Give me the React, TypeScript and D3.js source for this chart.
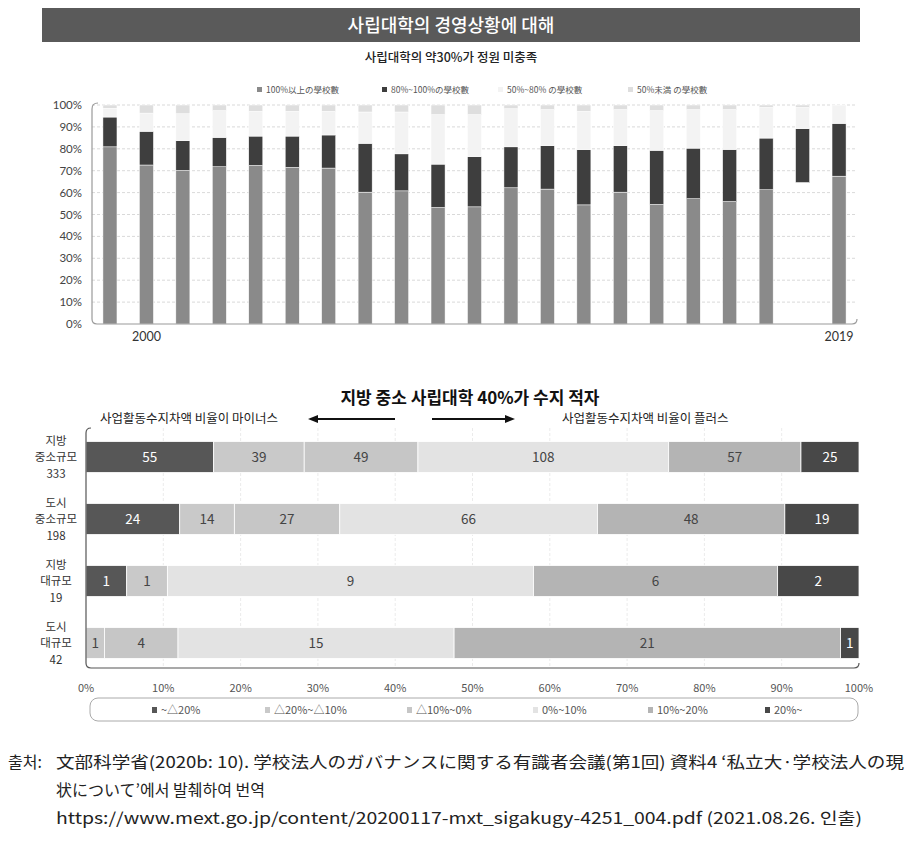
import React from "react";
import * as d3 from "d3";

// ---------- Top chart data ----------
const years = ["1999","2000","2001","2002","2003","2004","2005","2006","2007","2008","2009","2010","2011","2012","2013","2014","2015","2016","2017","2018","2019"];
const over100 = [80.9,72.6,70.1,71.8,72.4,71.5,71.2,60.2,60.8,53.2,53.5,62.2,61.6,54.4,60.2,54.6,57.2,55.9,61.3,64.6,67.5];
const from80to100 = [13.6,15.4,13.6,13.4,13.4,14.3,15.1,22.3,16.9,19.8,22.9,18.7,19.8,25.2,21.2,24.7,23.1,23.8,23.6,24.6,24.1];
const from50to80 = [4.0,8.3,12.3,12.2,11.3,11.3,10.8,14.3,19.1,22.6,19.2,17.4,16.5,17.5,16.5,18.1,17.6,18.2,14.0,9.7,8.2];
const under50 = [1.5,3.7,4.0,2.6,2.9,2.9,2.9,3.2,3.2,4.4,4.4,1.7,2.1,2.9,2.1,2.6,2.1,2.1,1.1,1.1,0.2];
const missingBottomYears = ["2018"];
const topKeys = ["over100","from80to100","from50to80","under50"];
const topLegend = ["100%以上の學校數","80%~100%の學校數","50%~80% の學校數","50%未満 の學校數"];
const topColors = ["#8a8a8a","#3e3e3e","#f3f3f3","#dedede"];
const topYTicks = [0,10,20,30,40,50,60,70,80,90,100];
const topXLabels = ["2000","2019"];

// ---------- Bottom chart data ----------
const rowLabels = [["지방","중소규모","333"],["도시","중소규모","198"],["지방","대규모","19"],["도시","대규모","42"]];
const rowIds = ["r1","r2","r3","r4"];
const bKeys = ["m20","m20m10","m10z","z10","p10p20","p20"];
const bLegend = ["~△20%","△20%~△10%","△10%~0%","0%~10%","10%~20%","20%~"];
const bColors = ["#575757","#c9c9c9","#c6c6c6","#e3e3e3","#b4b4b4","#484848"];
const bTextColors = ["#ffffff","#444444","#444444","#444444","#444444","#ffffff"];
const m20 = [55,24,1,0];
const m20m10 = [39,14,1,1];
const m10z = [49,27,0,4];
const z10 = [108,66,9,15];
const p10p20 = [57,48,6,21];
const p20 = [25,19,2,1];
const bTicks = [0,0.1,0.2,0.3,0.4,0.5,0.6,0.7,0.8,0.9,1];

const KR = "'Noto Sans CJK KR', 'Noto Sans', sans-serif";
const JP = "'Noto Sans CJK JP', 'Noto Sans CJK KR', sans-serif";

export default function App() {
  // top scales
  const xTop = d3.scaleBand<string>().domain(years).range([92, 857]).paddingInner(0.615).paddingOuter(0.3);
  const yTop = d3.scaleLinear().domain([0, 100]).range([324, 105]);
  const topRows = years.map((y, i) => ({ year: y, over100: over100[i], from80to100: from80to100[i], from50to80: from50to80[i], under50: under50[i] }));
  const topStack = d3.stack<any>().keys(topKeys)(topRows as any);

  // bottom scales
  const xB = d3.scaleLinear().domain([0, 1]).range([86, 859]);
  const yB = d3.scaleBand<string>().domain(rowIds).range([426, 674]).paddingInner(0.5).paddingOuter(0.25);
  const bRows = rowIds.map((id, i) => ({ id, m20: m20[i], m20m10: m20m10[i], m10z: m10z[i], z10: z10[i], p10p20: p10p20[i], p20: p20[i] }));
  const bStack = d3.stack<any>().keys(bKeys).offset(d3.stackOffsetExpand)(bRows as any);

  const [tx0, tx1] = xTop.range();
  const ty0 = yTop(0), ty1 = yTop(100) - 2;
  const bx0 = xB(0), bx1 = xB(1);
  const by0 = 428, by1 = 668;

  const legendTopX = [257, 382, 498, 628];
  const legendBX = [152, 265, 407, 533, 648, 765];

  return (
    <svg width={912} height={845} style={{ display: "block", position: "absolute", left: 0, top: 0 }}>
      <rect x={0} y={0} width={912} height={845} fill="#ffffff" />
      {/* Title bar */}
      <rect x={42} y={8} width={818} height={34} fill="#5a5a5a" />
      <text x={451} y={31.5} textAnchor="middle" fill="#ffffff" fontSize={18} fontWeight={500} fontFamily={KR}>사립대학의 경영상황에 대해</text>
      <text x={451} y={62} textAnchor="middle" fill="#222" fontSize={12.5} fontWeight={500} fontFamily={KR}>사립대학의 약30%가 정원 미충족</text>

      {/* top legend */}
      {topLegend.map((t, i) => (
        <g key={t}>
          <rect x={legendTopX[i]} y={87} width={5} height={5} fill={topColors[i]} />
          <text x={legendTopX[i] + 9} y={92.5} fontSize={8.5} fill="#555" fontFamily={JP}>{t}</text>
        </g>
      ))}

      {/* top grid */}
      {topYTicks.filter(t => t > 0).map(t => (
        <line key={t} x1={tx0} x2={tx1} y1={yTop(t)} y2={yTop(t)} stroke="#cfcfcf" strokeWidth={0.8} strokeDasharray="3,2" />
      ))}
      {topYTicks.map(t => (
        <text key={"l" + t} x={82} y={yTop(t) + 4} textAnchor="end" fontSize={11.5} fill="#444" fontFamily="Lato, 'Noto Sans', sans-serif">{t}%</text>
      ))}

      {/* top bars */}
      {topStack.map((s, si) => (
        <g key={s.key}>
          {s.map((d: any) => (
            <rect key={d.data.year}
              x={xTop(d.data.year)}
              y={yTop(d[1])}
              width={xTop.bandwidth()}
              height={Math.max(0, yTop(d[0]) - yTop(d[1]))}
              fill={si === 0 && missingBottomYears.includes(d.data.year) ? "none" : topColors[si]}
              stroke={si === 0 && missingBottomYears.includes(d.data.year) ? "none" : "#ffffff"}
              strokeWidth={0.5} />
          ))}
        </g>
      ))}
      {/* top frame */}
      <path d={`M${tx0 + 6},${ty1} Q${tx0},${ty1} ${tx0},${ty1 + 6} L${tx0},${ty0 - 5} Q${tx0},${ty0} ${tx0 + 5},${ty0} L${tx1 - 5},${ty0} Q${tx1},${ty0} ${tx1},${ty0 - 5}`} fill="none" stroke="#9a9a9a" strokeWidth={1.2} />
      {topXLabels.map(y => (
        <text key={y} x={(xTop(y) as number) + xTop.bandwidth() / 2} y={341} textAnchor="middle" fontSize={12.5} fill="#333" fontFamily="Lato, 'Noto Sans', sans-serif">{y}</text>
      ))}

      {/* bottom title */}
      <text x={470} y={404} textAnchor="middle" fontSize={17} fontWeight={700} fill="#111" fontFamily={KR}>지방 중소 사립대학 40%가 수지 적자</text>
      <text x={100} y={423} fontSize={12.5} fill="#222" fontFamily={KR}>사업활동수지차액 비율이 마이너스</text>
      <text x={562} y={423} fontSize={12.5} fill="#222" fontFamily={KR}>사업활동수지차액 비율이 플러스</text>
      <line x1={395} x2={314} y1={419} y2={419} stroke="#111" strokeWidth={2} />
      <path d="M308,419 L318,415 L318,423 Z" fill="#111" />
      <line x1={432} x2={509} y1={419} y2={419} stroke="#111" strokeWidth={2} />
      <path d="M515,419 L505,415 L505,423 Z" fill="#111" />

      {/* bottom grid */}
      {bTicks.filter(t => t > 0 && t < 1).map(t => (
        <line key={t} x1={xB(t)} x2={xB(t)} y1={by0} y2={by1} stroke="#e6e6e6" strokeWidth={0.8} strokeDasharray="3,2" />
      ))}
      {/* bottom bars */}
      {bStack.map((s, si) => (
        <g key={s.key}>
          {s.map((d: any) => {
            const v = d.data[s.key];
            if (!v) return null;
            const x0 = xB(d[0]), x1 = xB(d[1]);
            const yy = yB(d.data.id) as number;
            return (
              <g key={d.data.id}>
                <rect x={x0} y={yy} width={x1 - x0} height={yB.bandwidth()} fill={bColors[si]} stroke="#ffffff" strokeWidth={0.8} />
                <text x={(x0 + x1) / 2} y={yy + yB.bandwidth() / 2 + 5} textAnchor="middle" fontSize={13.5} fill={bTextColors[si]} fontFamily={KR}>{v}</text>
              </g>
            );
          })}
        </g>
      ))}
      {/* row labels */}
      {rowIds.map((id, i) => {
        const cy = (yB(id) as number) + yB.bandwidth() / 2;
        return (
          <g key={id}>
            {rowLabels[i].map((l, j) => (
              <text key={j} x={56} y={cy - 12.5 + j * 16.8} textAnchor="middle" fontSize={11.5} fill="#333" fontFamily={KR}>{l}</text>
            ))}
          </g>
        );
      })}
      {/* bottom frame */}
      <path d={`M${bx0 + 5},${by0} Q${bx0},${by0} ${bx0},${by0 + 5} L${bx0},${by1 - 5} Q${bx0},${by1} ${bx0 + 5},${by1} L${bx1 - 5},${by1} Q${bx1},${by1} ${bx1},${by1 - 5}`} fill="none" stroke="#555" strokeWidth={1.2} />
      {bTicks.map(t => (
        <text key={t} x={xB(t)} y={692} textAnchor="middle" fontSize={11} fill="#555" fontFamily={KR}>{Math.round(t * 100)}%</text>
      ))}
      {/* bottom legend */}
      <rect x={90} y={698} width={768} height={23} rx={8} ry={8} fill="none" stroke="#aaa" strokeWidth={1} />
      {bLegend.map((t, i) => (
        <g key={t}>
          <rect x={legendBX[i]} y={707} width={5} height={6} fill={bColors[i]} />
          <text x={legendBX[i] + 9} y={714} fontSize={11} fill="#555" fontFamily={KR}>{t}</text>
        </g>
      ))}

      {/* footer */}
      <text x={8} y={768} fontSize={16} fill="#222" fontFamily={KR}>출처:</text>
      <text x={56} y={768} fontSize={16} fill="#222" fontFamily={JP} textLength={848} lengthAdjust="spacingAndGlyphs">文部科学省(2020b: 10). 学校法人のガバナンスに関する有識者会議(第1回) 資料4 ‘私立大·学校法人の現</text>
      <text x={56} y={796} fontSize={16} fill="#222" fontFamily={JP}>状について’에서 발췌하여 번역</text>
      <text x={56} y={824} fontSize={16} fill="#222" fontFamily={KR} textLength={806} lengthAdjust="spacingAndGlyphs">https://www.mext.go.jp/content/20200117-mxt_sigakugy-4251_004.pdf (2021.08.26. 인출)</text>
    </svg>
  );
}
